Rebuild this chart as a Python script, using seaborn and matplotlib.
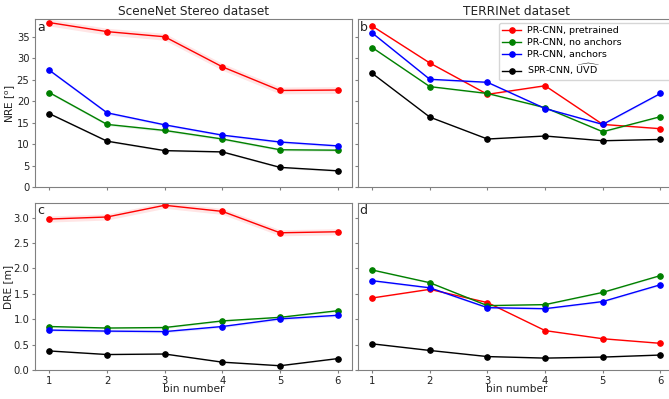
import numpy as np
import pandas as pd
import seaborn as sns
import matplotlib.pyplot as plt

# bin numbers on the x axis
bins = [1, 2, 3, 4, 5, 6]

methods = ["PR-CNN, pretrained", "PR-CNN, no anchors", "PR-CNN, anchors",
           r"SPR-CNN, $\widehat{\mathrm{UVD}}$"]
colors = ["red", "green", "blue", "black"]

# (a) SceneNet Stereo, NRE [deg]
sn_nre_pretrained = [38.3, 36.2, 35.0, 28.0, 22.5, 22.6]
sn_nre_noanchors = [22.0, 14.6, 13.2, 11.2, 8.7, 8.6]
sn_nre_anchors = [27.2, 17.3, 14.5, 12.1, 10.5, 9.6]
sn_nre_spr = [17.1, 10.7, 8.5, 8.2, 4.6, 3.8]
sn_nre_band = [0.8, 0.3, 0.3, 0.2]

# (b) TERRINet, NRE [deg]
tn_nre_pretrained = [37.5, 28.9, 21.6, 23.6, 14.6, 13.6]
tn_nre_noanchors = [32.5, 23.4, 21.8, 18.5, 12.9, 16.4]
tn_nre_anchors = [35.9, 25.1, 24.4, 18.3, 14.6, 21.8]
tn_nre_spr = [26.5, 16.3, 11.2, 11.9, 10.8, 11.1]
tn_nre_band = [0.2, 0.2, 0.25, 0.1]

# (c) SceneNet Stereo, DRE [m]
sn_dre_pretrained = [2.97, 3.01, 3.24, 3.12, 2.70, 2.72]
sn_dre_noanchors = [0.86, 0.83, 0.84, 0.97, 1.04, 1.17]
sn_dre_anchors = [0.79, 0.77, 0.76, 0.86, 1.01, 1.08]
sn_dre_spr = [0.38, 0.31, 0.32, 0.16, 0.09, 0.23]
sn_dre_band = [0.06, 0.02, 0.025, 0.01]

# (d) TERRINet, DRE [m]
tn_dre_pretrained = [1.42, 1.59, 1.33, 0.78, 0.62, 0.53]
tn_dre_noanchors = [1.97, 1.72, 1.27, 1.29, 1.53, 1.86]
tn_dre_anchors = [1.76, 1.62, 1.23, 1.21, 1.35, 1.68]
tn_dre_spr = [0.52, 0.39, 0.27, 0.24, 0.26, 0.30]
tn_dre_band = [0.01, 0.015, 0.02, 0.01]

panels = [
    ("a", [sn_nre_pretrained, sn_nre_noanchors, sn_nre_anchors, sn_nre_spr], sn_nre_band),
    ("b", [tn_nre_pretrained, tn_nre_noanchors, tn_nre_anchors, tn_nre_spr], tn_nre_band),
    ("c", [sn_dre_pretrained, sn_dre_noanchors, sn_dre_anchors, sn_dre_spr], sn_dre_band),
    ("d", [tn_dre_pretrained, tn_dre_noanchors, tn_dre_anchors, tn_dre_spr], tn_dre_band),
]

TXT = "#222222"

fig = plt.figure(figsize=(6.69, 3.99), dpi=100)
# axes placed by hand; the right column runs slightly past the figure edge
boxes = {
    "a": [0.0523, 0.531, 0.474, 0.421],
    "b": [0.5347, 0.531, 0.474, 0.421],
    "c": [0.0523, 0.0719, 0.474, 0.420],
    "d": [0.5347, 0.0719, 0.474, 0.420],
}
axes = {k: fig.add_axes(v) for k, v in boxes.items()}

for letter, series, band in panels:
    ax = axes[letter]
    for name, vals, c, b in zip(methods, series, colors, band):
        vals = np.array(vals)
        ax.fill_between(bins, vals - b, vals + b, color=c, alpha=0.1, lw=0)
        sns.lineplot(x=bins, y=vals, ax=ax, color=c, marker="o", markersize=4,
                     markeredgecolor=c, linewidth=1.0, label=name, legend=False)
    ax.set_xlim(0.75, 6.25)
    ax.set_xticks(bins)
    for s in ax.spines.values():
        s.set_color("gray")
    ax.tick_params(colors="gray", labelcolor=TXT, labelsize=7.2, length=2.5, pad=1.5)
    ax.text(0.006, 0.99, letter, transform=ax.transAxes, ha="left", va="top",
            fontsize=9, color=TXT)

for k in ["a", "b"]:
    axes[k].set_ylim(0, 39.1)
    axes[k].set_yticks([0, 5, 10, 15, 20, 25, 30, 35])
    axes[k].tick_params(labelbottom=False)
for k in ["c", "d"]:
    axes[k].set_ylim(0, 3.29)
    axes[k].set_yticks([0.0, 0.5, 1.0, 1.5, 2.0, 2.5, 3.0])
    axes[k].set_xlabel("bin number", fontsize=7.6, labelpad=-1, color=TXT)
for k in ["b", "d"]:
    axes[k].tick_params(labelleft=False)

axes["a"].set_ylabel(r"NRE [$^\mathrm{o}$]", fontsize=7.6, color=TXT)
axes["c"].set_ylabel("DRE [m]", fontsize=7.6, color=TXT)
axes["a"].yaxis.set_label_coords(-0.054, 0.5)
axes["c"].yaxis.set_label_coords(-0.069, 0.5)
axes["a"].set_title("SceneNet Stereo dataset", fontsize=8.7, pad=3, color=TXT)
axes["b"].set_title("TERRINet dataset", fontsize=8.7, pad=3, color=TXT)

axes["b"].legend(loc="upper left", bbox_to_anchor=(0.7459, 0.5, 0.27, 0.4424),
                 bbox_transform=fig.transFigure, mode="expand", borderaxespad=0,
                 fontsize=6.8, frameon=True, handlelength=2.0, handletextpad=0.6,
                 labelspacing=0.3, borderpad=0.35)

fig.savefig("out.png", dpi=100)
